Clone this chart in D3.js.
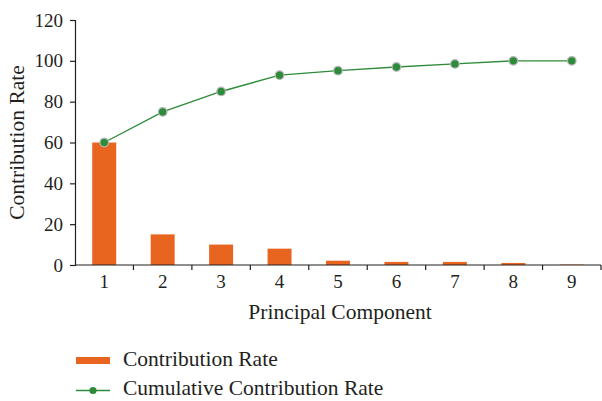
<!DOCTYPE html>
<html>
<head>
<meta charset="utf-8">
<script src="https://cdn.jsdelivr.net/npm/d3@7"></script>
<style>
  html, body { margin: 0; padding: 0; background: #fff; }
  text { font-family: "Liberation Serif", "DejaVu Serif", serif; fill: #231f20; }
</style>
</head>
<body>
<svg id="chart" width="602" height="401"></svg>
<script>
// Principal component analysis: contribution of each component
const components = ["1", "2", "3", "4", "5", "6", "7", "8", "9"];
const contribution = [60, 15, 10, 8, 2.1, 1.5, 1.5, 1.0, 0.2];
const cumulative = [60, 75, 85, 93, 95.2, 97, 98.5, 100, 100];
const yTicks = [0, 20, 40, 60, 80, 100, 120];

const svg = d3.select("#chart");
const margin = { left: 75, right: 1, top: 20, bottom: 136 };
const width = 602 - margin.left - margin.right;
const height = 401 - margin.top - margin.bottom;

const tickFont = 19;
const titleFont = 21.5;

const g = svg.append("g").attr("transform", `translate(${margin.left},${margin.top})`);

const x = d3.scaleBand().domain(components).range([0, width]).paddingInner(0.59).paddingOuter(0.295);
const xBounds = d3.scaleLinear().domain([0, components.length]).range([0, width]);
const y = d3.scaleLinear().domain([0, 120]).range([height, 0]);

const orange = "#e86520";
const green = "#2e8b3a";

// bars
g.selectAll("rect.bar").data(contribution).join("rect")
  .attr("class", "bar")
  .attr("x", (d, i) => x(components[i]))
  .attr("width", x.bandwidth())
  .attr("y", d => y(d))
  .attr("height", d => height - y(d))
  .attr("fill", orange);

// cumulative line
const cx = (d, i) => x(components[i]) + x.bandwidth() / 2;
g.append("path")
  .datum(cumulative)
  .attr("fill", "none")
  .attr("stroke", green)
  .attr("stroke-width", 1.4)
  .attr("d", d3.line().x(cx).y(d => y(d)));

g.selectAll("circle.pt").data(cumulative).join("circle")
  .attr("class", "pt")
  .attr("cx", cx)
  .attr("cy", d => y(d))
  .attr("r", 4.3)
  .attr("fill", green)
  .attr("stroke", "#b8b8b8")
  .attr("stroke-width", 1.2);

// y axis
const yAxis = g.append("g").call(d3.axisLeft(y).tickValues(yTicks).tickSize(5).tickPadding(7));
yAxis.select(".domain").attr("stroke", "#231f20").attr("stroke-width", 1.2);
yAxis.selectAll(".tick line").attr("stroke", "#231f20").attr("stroke-width", 1.2);
yAxis.selectAll("text").attr("font-size", tickFont).attr("font-family", "Liberation Serif, serif");

// x axis: tick marks at category boundaries, labels at band centers
const xAxisG = g.append("g").attr("transform", `translate(0,${height})`);
xAxisG.append("line").attr("x1", 0).attr("x2", width).attr("y1", 0).attr("y2", 0)
  .attr("stroke", "#231f20").attr("stroke-width", 1.2);
xAxisG.selectAll("line.bt").data(d3.range(1, components.length + 1)).join("line")
  .attr("class", "bt")
  .attr("x1", d => xBounds(d)).attr("x2", d => xBounds(d))
  .attr("y1", 0).attr("y2", 5)
  .attr("stroke", "#231f20").attr("stroke-width", 1.2);
xAxisG.selectAll("text.xl").data(components).join("text")
  .attr("class", "xl")
  .attr("x", d => x(d) + x.bandwidth() / 2)
  .attr("y", 23)
  .attr("text-anchor", "middle")
  .attr("font-size", tickFont)
  .text(d => d);

// axis titles
svg.append("text")
  .attr("transform", `translate(24,${margin.top + height / 2}) rotate(-90)`)
  .attr("text-anchor", "middle")
  .attr("font-size", titleFont)
  .text("Contribution Rate");

svg.append("text")
  .attr("x", 340)
  .attr("y", 319)
  .attr("text-anchor", "middle")
  .attr("font-size", titleFont)
  .text("Principal Component");

// legend
const lg = svg.append("g");
lg.append("rect").attr("x", 76).attr("y", 357).attr("width", 34).attr("height", 7).attr("fill", orange);
lg.append("text").attr("x", 123).attr("y", 366).attr("font-size", titleFont).text("Contribution Rate");
lg.append("line").attr("x1", 76).attr("x2", 110).attr("y1", 390.5).attr("y2", 390.5)
  .attr("stroke", green).attr("stroke-width", 1.4);
lg.append("circle").attr("cx", 93).attr("cy", 390.5).attr("r", 3.6).attr("fill", green);
lg.append("text").attr("x", 123).attr("y", 395).attr("font-size", titleFont).text("Cumulative Contribution Rate");
</script>
</body>
</html>
